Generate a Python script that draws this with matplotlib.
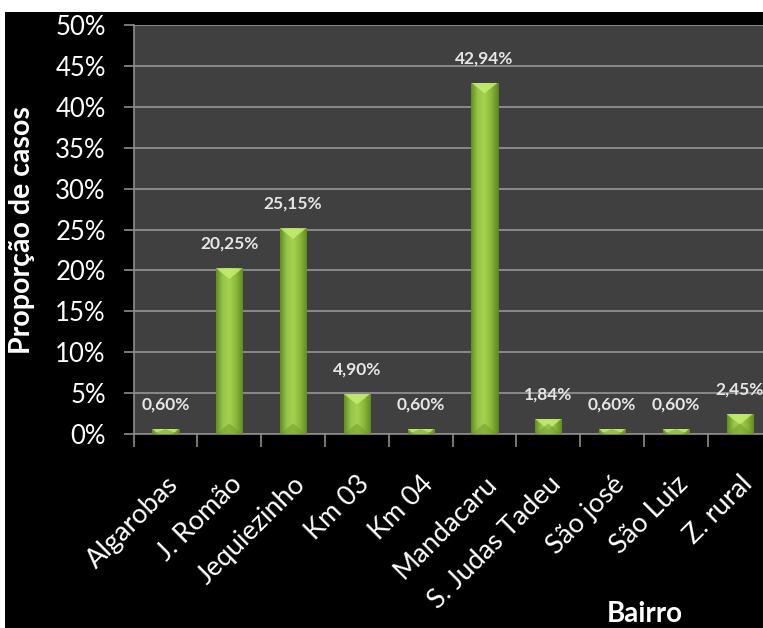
import numpy as np
import matplotlib
matplotlib.use('Agg')
import matplotlib.pyplot as plt
from matplotlib.patches import Rectangle, Polygon
from matplotlib.colors import LinearSegmentedColormap

plt.rcParams['font.family'] = ['Lato', 'DejaVu Sans']

bairros = ['Algarobas', 'J. Romão', 'Jequiezinho', 'Km 03', 'Km 04', 'Mandacaru',
           'S. Judas Tadeu', 'São josé', 'São Luiz', 'Z. rural']
proporcao = [0.60, 20.25, 25.15, 4.90, 0.60, 42.94, 1.84, 0.60, 0.60, 2.45]
rotulos = ['0,60%', '20,25%', '25,15%', '4,90%', '0,60%', '42,94%', '1,84%', '0,60%', '0,60%', '2,45%']
yticks = [0, 5, 10, 15, 20, 25, 30, 35, 40, 45, 50]

fig = plt.figure(figsize=(7.63, 6.28), dpi=100, facecolor='white')
# black panel behind the chart (white strip on top/left like the reference)
fig.patches.append(Rectangle((5/763, 0), 1, 616/628, transform=fig.transFigure,
                             facecolor='black', edgecolor='none', zorder=-5))

ax = fig.add_axes([133.6/763, 194/628, 638/763, 409/628])
ax.set_facecolor('#404040')

x = np.arange(len(bairros))
bars = ax.bar(x, proporcao, width=0.41, color='#8cb83a', edgecolor='#5f7f22',
              linewidth=0.6, zorder=3)

grad = LinearSegmentedColormap.from_list('verde', ['#648c24', '#98c649', '#a6d250', '#8cb83a', '#648c24'])
g = np.linspace(0, 1, 64).reshape(1, -1)
for b in bars:
    x0, w, h = b.get_x(), b.get_width(), b.get_height()
    im = ax.imshow(g, extent=[x0, x0 + w, 0, h], aspect='auto', cmap=grad,
                   zorder=3.1, interpolation='bicubic')
    im.set_clip_path(b)
    d = 1.3
    top = Polygon([[x0, h], [x0 + w, h], [x0 + w/2, h - d]], closed=True,
                  facecolor='#c4ec72', edgecolor='none', alpha=0.85, zorder=3.2)
    ax.add_patch(top)
    top.set_clip_path(b)
    bot = Polygon([[x0, 0], [x0 + w, 0], [x0 + w/2, min(d, h)]], closed=True,
                  facecolor='#6f9a2c', edgecolor='none', alpha=0.5, zorder=3.2)
    ax.add_patch(bot)
    bot.set_clip_path(b)

for xi, v, lab in zip(x, proporcao, rotulos):
    ax.annotate(lab, (xi, v), xytext=(0, 14), textcoords='offset points',
                ha='center', va='baseline', color='#e6e6e6', fontsize=12.5,
                fontweight='bold', zorder=5)

ax.set_xlim(-0.5, len(bairros) - 0.5)
ax.set_ylim(0, 50)
ax.set_yticks(yticks)
ax.set_yticklabels([f'{t}%' for t in yticks], color='white', fontsize=18.5)
ax.tick_params(axis='y', length=7, color='#8c8c8c', width=1.2, pad=13)

ax.set_xticks(x)
ax.set_xticklabels(bairros, rotation=45, ha='right', va='top',
                   rotation_mode='anchor', color='white', fontsize=19.5)
ax.tick_params(axis='x', which='major', length=0, pad=27)
ax.set_xticks(np.arange(-0.5, len(bairros), 1), minor=True)
ax.tick_params(axis='x', which='minor', length=9, color='#8c8c8c', width=1.2)

ax.grid(axis='y', color='#8a8a8a', linewidth=1.4, zorder=1)
ax.set_axisbelow(True)
for s in ['top', 'right']:
    ax.spines[s].set_visible(False)
for s in ['left', 'bottom']:
    ax.spines[s].set_color('#8c8c8c')
    ax.spines[s].set_linewidth(1.2)

fig.text(22/763, 1 - 230/628, 'Proporção de casos', rotation=90, ha='center',
         va='center', color='white', fontsize=20.5, fontweight='bold')
fig.text(645/763, 1/628, 'Bairro', ha='center', va='bottom',
         color='white', fontsize=20, fontweight='bold')

fig.savefig('out.png', dpi=100, facecolor=fig.get_facecolor())
